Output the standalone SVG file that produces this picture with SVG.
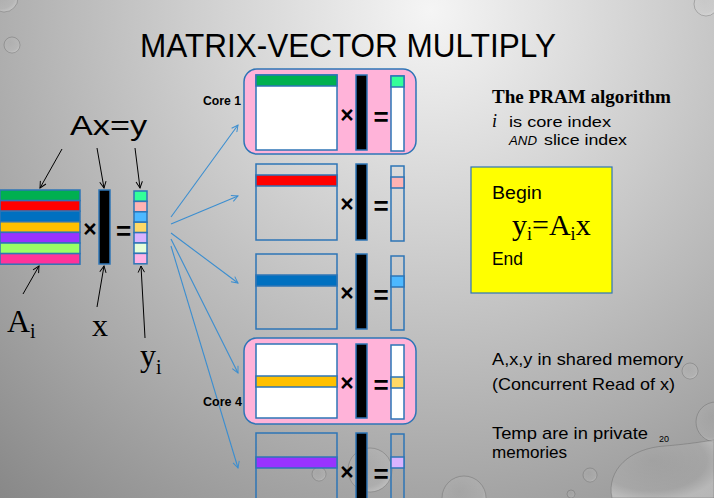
<svg xmlns="http://www.w3.org/2000/svg" width="714" height="498" viewBox="0 0 714 498">
  <defs>
    <radialGradient id="bg" gradientUnits="userSpaceOnUse" cx="430" cy="10" r="650">
      <stop offset="0" stop-color="#f5f5f5"/>
      <stop offset="0.35" stop-color="#d0d0d0"/>
      <stop offset="0.7" stop-color="#aaaaaa"/>
      <stop offset="1" stop-color="#888888"/>
    </radialGradient>
    <radialGradient id="drop" cx="0.4" cy="0.35" r="0.7">
      <stop offset="0" stop-color="#ffffff" stop-opacity="0"/>
      <stop offset="0.75" stop-color="#ffffff" stop-opacity="0.08"/>
      <stop offset="1" stop-color="#ffffff" stop-opacity="0.3"/>
    </radialGradient>
    <marker id="ab" viewBox="0 0 10 10" refX="9" refY="5" markerWidth="8" markerHeight="8" orient="auto" markerUnits="userSpaceOnUse">
      <path d="M1,1 L9,5 L1,9" fill="none" stroke="#3b8ed0" stroke-width="1.2"/>
    </marker>
    <marker id="ak" viewBox="0 0 10 10" refX="9" refY="5" markerWidth="8" markerHeight="8" orient="auto" markerUnits="userSpaceOnUse">
      <path d="M1,1 L9,5 L1,9" fill="none" stroke="#000" stroke-width="1.2"/>
    </marker>
  </defs>
  <style>
    .b { stroke: #2e75b6; stroke-width: 1.5; }
    .vec { fill: #000; stroke: #2e75b6; stroke-width: 1.5; }
    .op { font-family: "Liberation Sans", Arial, sans-serif; font-weight: bold; text-anchor: middle; fill: #000; }
    .sans { font-family: "Liberation Sans", Arial, sans-serif; fill: #000; }
    .serif { font-family: "Liberation Serif", "Times New Roman", serif; fill: #000; }
    .core { fill: #ffb3d9; stroke: #2e75b6; stroke-width: 1.5; }
    .blue { stroke: #3b8ed0; stroke-width: 1.1; fill: none; marker-end: url(#ab); }
    .blk { stroke: #000; stroke-width: 1; fill: none; marker-end: url(#ak); }
    .dr { fill: url(#drop); stroke: #5a5a5a; stroke-opacity: 0.35; stroke-width: 1; }
  </style>

  <rect x="0" y="0" width="714" height="498" fill="url(#bg)"/>

  <g id="decor">
    <circle class="dr" cx="12" cy="45" r="8"/>
    <circle class="dr" cx="4" cy="-2" r="14"/>
    <circle class="dr" cx="706" cy="4" r="12"/>
    <circle class="dr" cx="690" cy="371" r="8"/>
    <circle class="dr" cx="716" cy="422" r="20"/>
    <circle class="dr" cx="370" cy="470" r="22"/>
    <circle class="dr" cx="319" cy="474" r="7"/>
    <circle class="dr" cx="590" cy="475" r="7"/>
    <circle class="dr" cx="571" cy="494" r="4"/>
    <circle class="dr" cx="464" cy="498" r="22"/>
    <path class="dr" d="M612,498 C606,470 630,448 665,446 C690,444 714,440 714,440 L714,498 Z"/>
  </g>

  <text id="title" class="sans" x="140" y="57" font-size="34" textLength="416" lengthAdjust="spacingAndGlyphs">MATRIX-VECTOR MULTIPLY</text>

  <g id="equation">
    <text class="sans" x="70" y="135" font-size="28" textLength="77" lengthAdjust="spacingAndGlyphs">Ax=y</text>
    <g id="matrixA">
      <rect class="b" x="0" y="190" width="80" height="10.6" fill="#00b050"/>
      <rect class="b" x="0" y="200.6" width="80" height="10.6" fill="#ff0000"/>
      <rect class="b" x="0" y="211.2" width="80" height="10.6" fill="#0070c0"/>
      <rect class="b" x="0" y="221.8" width="80" height="10.6" fill="#ffc000"/>
      <rect class="b" x="0" y="232.4" width="80" height="10.6" fill="#9933ff"/>
      <rect class="b" x="0" y="243" width="80" height="10.6" fill="#99ff66"/>
      <rect class="b" x="0" y="253.6" width="80" height="10.6" fill="#ff3399"/>
    </g>
    <text class="op" x="90" y="237" font-size="23">×</text>
    <rect id="vecx" class="vec" x="99" y="190" width="11" height="74"/>
    <text class="op" x="123.5" y="240" font-size="26">=</text>
    <g id="vecy">
      <rect class="b" x="134" y="191" width="13" height="10.4" fill="#33ff99"/>
      <rect class="b" x="134" y="201.4" width="13" height="10.4" fill="#ffb3b3"/>
      <rect class="b" x="134" y="211.8" width="13" height="10.4" fill="#4db8ff"/>
      <rect class="b" x="134" y="222.2" width="13" height="10.4" fill="#ffd966"/>
      <rect class="b" x="134" y="232.6" width="13" height="10.4" fill="#d9b3ff"/>
      <rect class="b" x="134" y="243" width="13" height="10.4" fill="#e6ffd9"/>
      <rect class="b" x="134" y="253.4" width="13" height="10.4" fill="#ffb3e6"/>
    </g>
    <text class="serif" x="7" y="332" font-size="32">A<tspan font-size="20" dy="6">i</tspan></text>
    <text class="serif" x="92" y="336" font-size="32">x</text>
    <text class="serif" x="140" y="366" font-size="32">y<tspan font-size="20" dy="8">i</tspan></text>
  </g>

  <g id="connectors">
    <line class="blk" x1="62" y1="149" x2="40" y2="188"/>
    <line class="blk" x1="97" y1="148" x2="104" y2="188"/>
    <line class="blk" x1="135" y1="148" x2="140" y2="188"/>
    <line class="blk" x1="23" y1="294" x2="39" y2="266"/>
    <line class="blk" x1="97" y1="307" x2="104" y2="266"/>
    <line class="blk" x1="145" y1="338" x2="141" y2="266"/>
    <line class="blue" x1="171" y1="217" x2="238" y2="125"/>
    <line class="blue" x1="171" y1="224" x2="238" y2="196"/>
    <line class="blue" x1="171" y1="233" x2="238" y2="283"/>
    <line class="blue" x1="171" y1="239" x2="238" y2="373"/>
    <line class="blue" x1="171" y1="246" x2="238" y2="468"/>
  </g>

  <g id="core1">
    <rect class="core" x="244" y="69" width="172" height="85" rx="13"/>
    <text class="sans" x="203" y="105" font-size="12" font-weight="bold" textLength="38" lengthAdjust="spacingAndGlyphs">Core 1</text>
    <rect class="b" x="256" y="75" width="81" height="75" fill="#ffffff"/>
    <rect class="b" x="256" y="75" width="81" height="11" fill="#00b050"/>
    <text class="op" x="347" y="123" font-size="23">×</text>
    <rect class="vec" x="356" y="75" width="11" height="75"/>
    <text class="op" x="381" y="126" font-size="26">=</text>
    <rect class="b" x="391" y="76" width="13" height="75" fill="#ffffff"/>
    <rect class="b" x="391" y="76" width="13" height="11" fill="#33ff99"/>
  </g>

  <g id="core2">
    <rect class="b" x="256" y="164" width="81" height="76" fill="none"/>
    <rect class="b" x="256" y="175" width="81" height="11" fill="#ff0000"/>
    <text class="op" x="347" y="212" font-size="23">×</text>
    <rect class="vec" x="356" y="164" width="11" height="76"/>
    <text class="op" x="381" y="215" font-size="26">=</text>
    <rect class="b" x="391" y="166" width="13" height="75" fill="none"/>
    <rect class="b" x="391" y="177" width="13" height="11" fill="#ffb3b3"/>
  </g>

  <g id="core3">
    <rect class="b" x="256" y="254" width="81" height="75" fill="none"/>
    <rect class="b" x="256" y="275" width="81" height="11" fill="#0070c0"/>
    <text class="op" x="347" y="301" font-size="23">×</text>
    <rect class="vec" x="356" y="254" width="11" height="75"/>
    <text class="op" x="381" y="304" font-size="26">=</text>
    <rect class="b" x="391" y="256" width="13" height="74" fill="none"/>
    <rect class="b" x="391" y="276" width="13" height="11" fill="#4db8ff"/>
  </g>

  <g id="core4">
    <rect class="core" x="244" y="338" width="172" height="86" rx="13"/>
    <text class="sans" x="203" y="406" font-size="12" font-weight="bold" textLength="39" lengthAdjust="spacingAndGlyphs">Core 4</text>
    <rect class="b" x="256" y="344" width="81" height="74" fill="#ffffff"/>
    <rect class="b" x="256" y="376" width="81" height="11" fill="#ffc000"/>
    <text class="op" x="347" y="391" font-size="23">×</text>
    <rect class="vec" x="356" y="344" width="11" height="74"/>
    <text class="op" x="381" y="394" font-size="26">=</text>
    <rect class="b" x="391" y="345" width="13" height="74" fill="#ffffff"/>
    <rect class="b" x="391" y="377" width="13" height="11" fill="#ffd966"/>
  </g>

  <g id="core5">
    <rect class="b" x="256" y="433" width="81" height="70" fill="none"/>
    <rect class="b" x="256" y="457" width="81" height="11" fill="#9933ff"/>
    <text class="op" x="347" y="480" font-size="23">×</text>
    <rect class="vec" x="356" y="433" width="11" height="70"/>
    <text class="op" x="381" y="483" font-size="26">=</text>
    <rect class="b" x="391" y="434" width="13" height="70" fill="none"/>
    <rect class="b" x="391" y="457" width="13" height="11" fill="#d9b3ff"/>
  </g>

  <g id="pram">
    <text class="serif" x="492" y="103" font-size="19" font-weight="bold" textLength="179" lengthAdjust="spacingAndGlyphs">The PRAM algorithm</text>
    <text class="serif" x="492" y="127" font-size="18" font-style="italic">i</text>
    <text class="sans" x="509" y="127" font-size="15.5" textLength="102" lengthAdjust="spacingAndGlyphs">is core index</text>
    <text class="sans" x="509" y="145" font-size="13.5" font-style="italic" textLength="28" lengthAdjust="spacingAndGlyphs">AND</text>
    <text class="sans" x="544" y="145" font-size="15.5" textLength="83" lengthAdjust="spacingAndGlyphs">slice index</text>
  </g>

  <g id="algo">
    <rect x="471" y="167" width="141" height="126" fill="#ffff00" stroke="#2e75b6" stroke-width="1.2"/>
    <text class="sans" x="492" y="199" font-size="18" textLength="50" lengthAdjust="spacingAndGlyphs">Begin</text>
    <text class="serif" x="512" y="235" font-size="30">y<tspan font-size="18" dy="5">i</tspan><tspan dy="-5">=A</tspan><tspan font-size="18" dy="5">i</tspan><tspan dy="-5">x</tspan></text>
    <text class="sans" x="492" y="265" font-size="18" textLength="31" lengthAdjust="spacingAndGlyphs">End</text>
  </g>

  <g id="notes">
    <text class="sans" x="492" y="365" font-size="17" textLength="191" lengthAdjust="spacingAndGlyphs">A,x,y in shared memory</text>
    <text class="sans" x="492" y="390" font-size="17" textLength="183" lengthAdjust="spacingAndGlyphs">(Concurrent Read of x)</text>
    <text class="sans" x="492" y="439" font-size="17" textLength="156" lengthAdjust="spacingAndGlyphs">Temp are in private</text>
    <text class="sans" x="492" y="458" font-size="17" textLength="75" lengthAdjust="spacingAndGlyphs">memories</text>
    <text class="sans" x="659" y="442" font-size="9">20</text>
  </g>
</svg>
